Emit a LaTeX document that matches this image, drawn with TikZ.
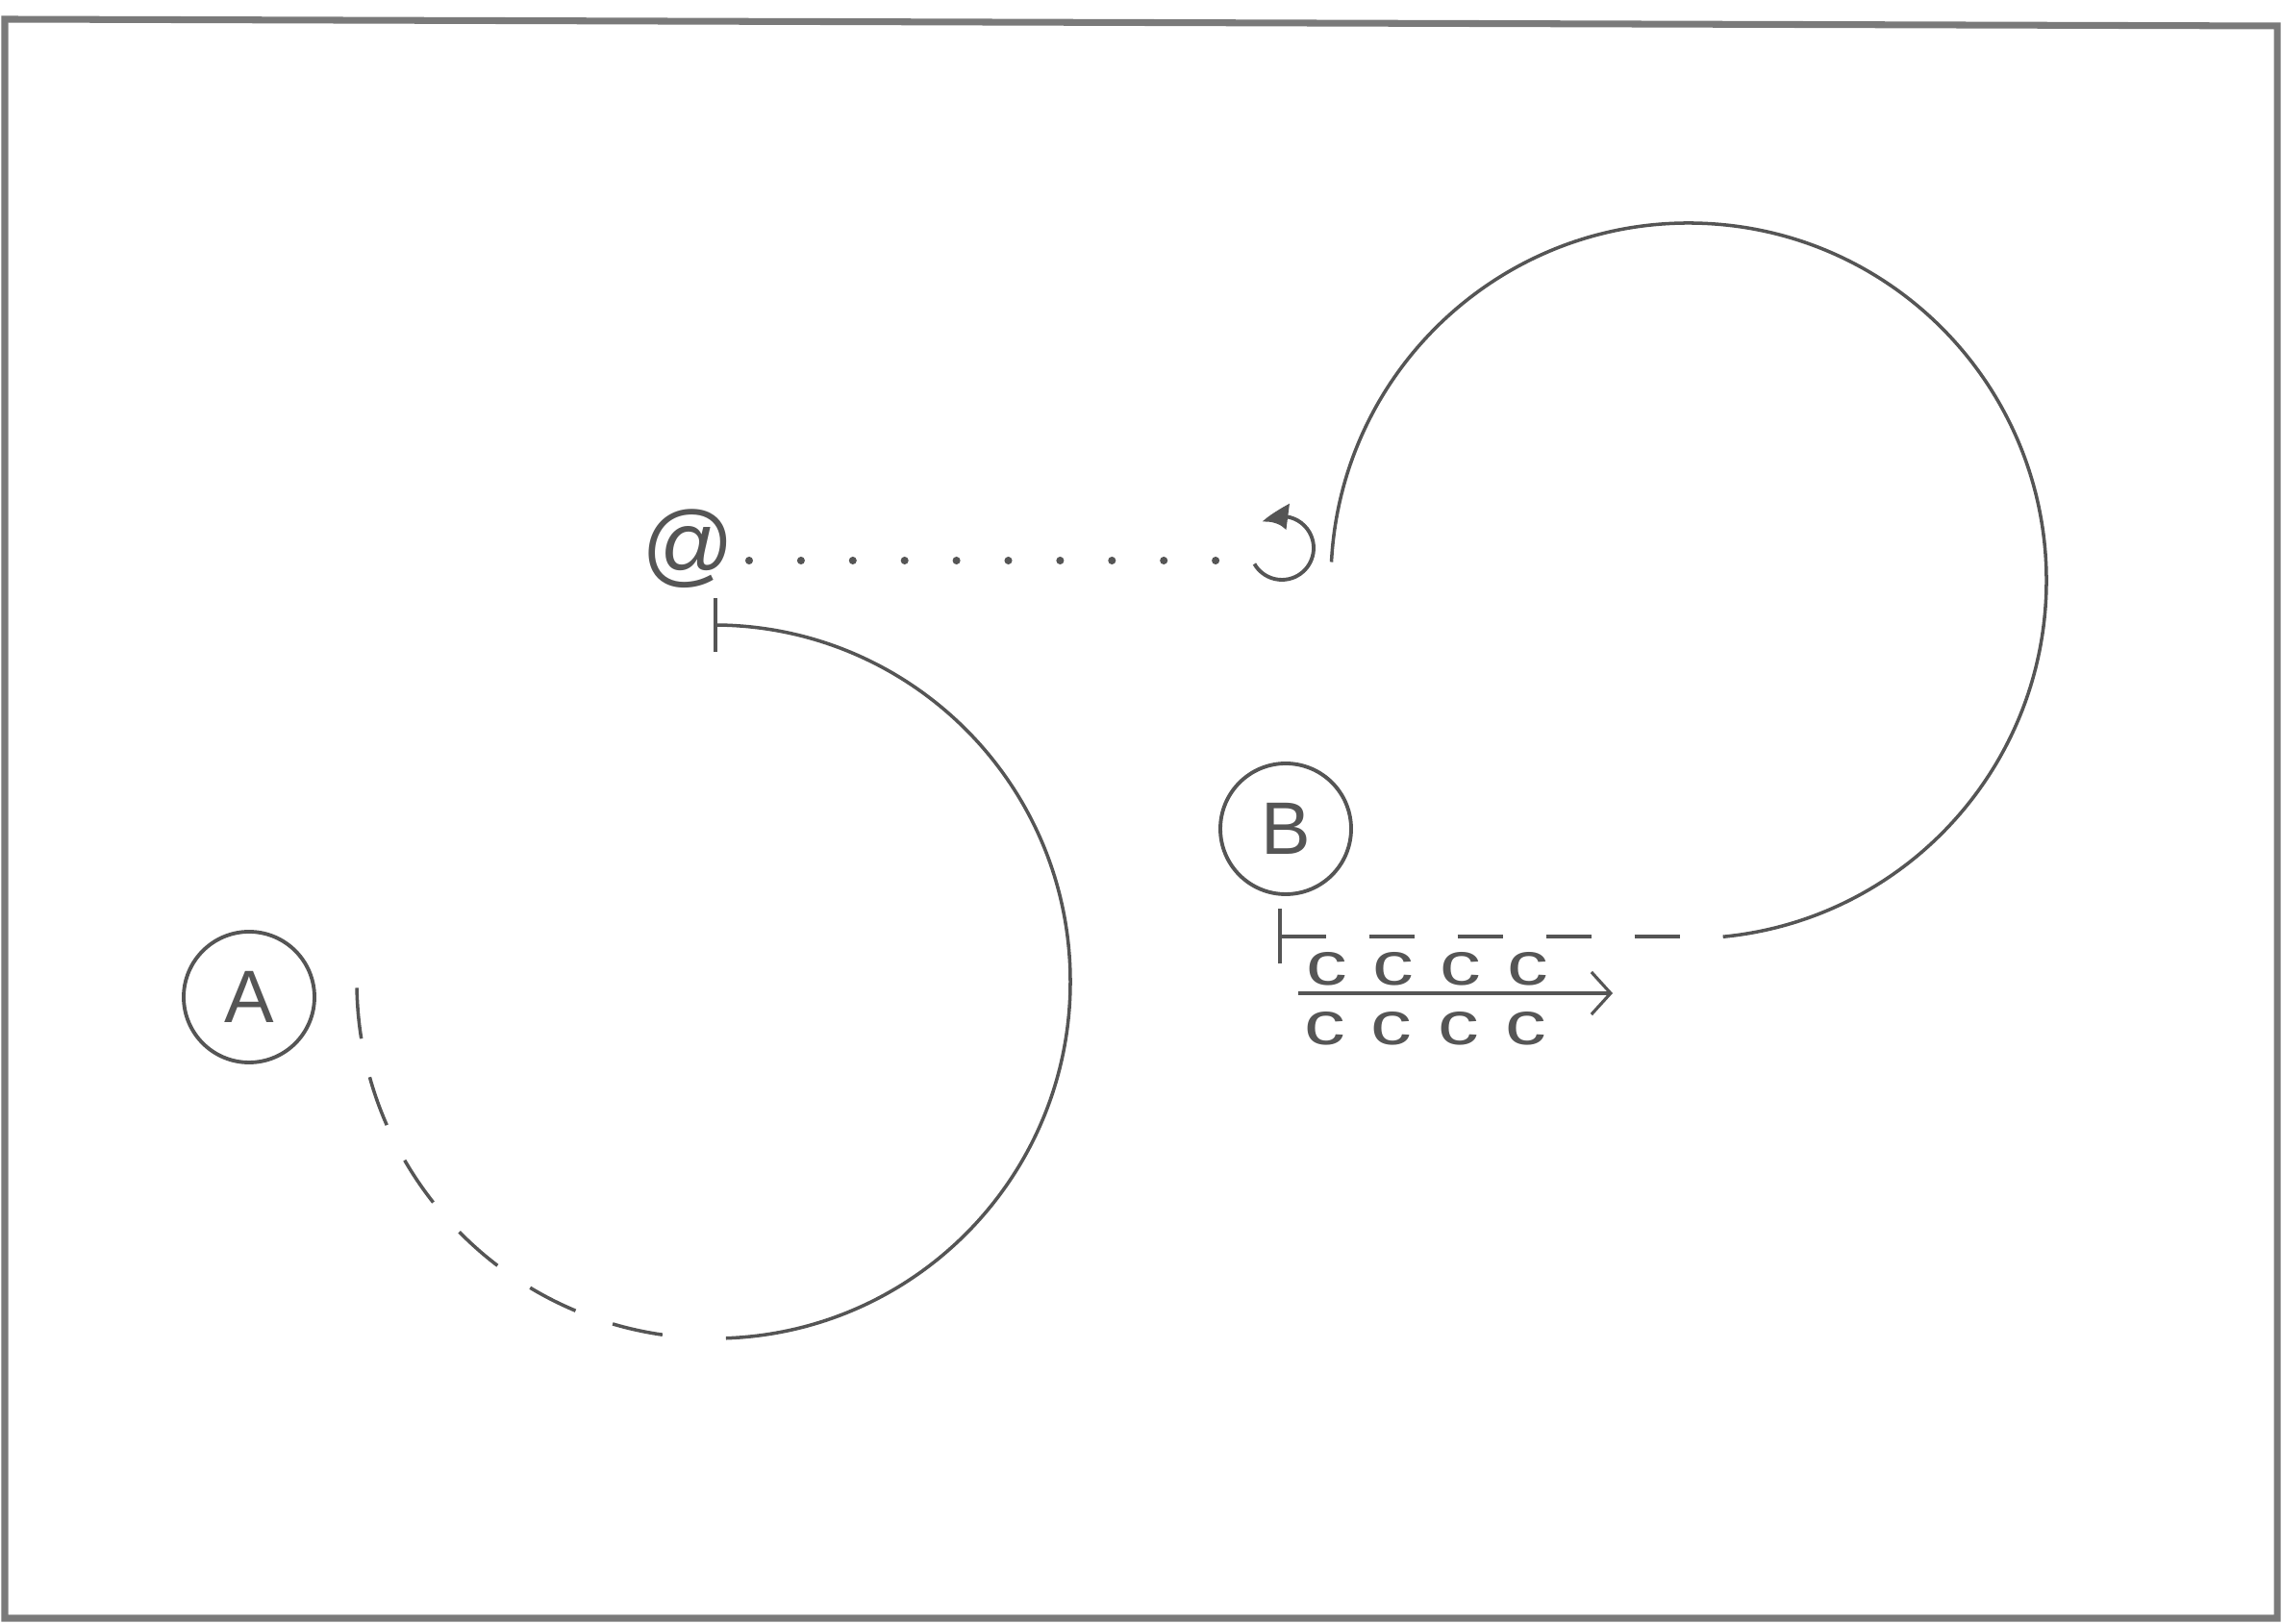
\documentclass[tikz,border=0pt]{standalone}
\usepackage{fontspec}
\setmainfont{Liberation Sans}
\usepackage{xcolor}
\usepackage{tikz}
\usetikzlibrary{arrows.meta,bending,positioning}
\definecolor{lapis}{HTML}{555555}
\definecolor{moldura}{HTML}{7A7A7A}
\newcommand{\letrac}{\scalebox{1.35}[1]{c}}
\newcommand{\linhac}{\letrac\hspace{2.7mm}\letrac\hspace{2.7mm}\letrac\hspace{2.7mm}\letrac}

\begin{document}
\begin{tikzpicture}[every node/.style={text=lapis},
    etiqueta/.style={draw=lapis,line width=1.1pt,circle,minimum size=1.36cm,inner sep=0pt,font=\fontsize{22}{22}\selectfont},
    traco/.style={draw=lapis,line width=1pt},
    letrasc/.style={inner sep=0pt,font=\fontsize{18}{18}\selectfont}]
    \useasboundingbox (0,0) rectangle (23.73,16.89);
    % moldura
    \draw[moldura,line width=2pt] (0.05,16.69) -- (23.68,16.62) -- (23.68,0.06) -- (0.05,0.06) -- cycle;
    % centros dos arcos
    \coordinate (arcoA) at (7.42,6.68);
    \coordinate (arcoB) at (17.56,10.85);
    % etiquetas
    \node[etiqueta] (A) at (2.59,6.52) {A};
    \node[etiqueta] (B) at (13.37,8.27) {B};
    \node[inner sep=0pt,font=\fontsize{27}{27}\selectfont] (arroba) at (7.16,11.18) {@};
    % arco A
    \draw[traco,{Bar[width=5.6mm]}-] ([shift={(90:3.71)}]arcoA) arc[start angle=90,end angle=-88,radius=3.71];
    \draw[traco,dash pattern=on 5.3mm off 4.1mm] ([shift={(181:3.71)}]arcoA) arc[start angle=181,end angle=267,radius=3.71];
    % linha pontilhada
    \coordinate (pontoI) at (7.79,11.06);
    \coordinate (pontoF) at (12.645,11.06);
    \draw[lapis,line width=2.3pt,line cap=round,dash pattern=on 0pt off 5.39mm] (pontoI) -- (pontoF);
    % laco
    \coordinate (laco) at (13.33,11.19);
    \draw[traco,line width=1.1pt,-{Latex[length=2.8mm,width=2.8mm,bend]}] ([shift={(-150:0.33)}]laco) arc[start angle=-150,end angle=128,radius=0.33];
    % arco B
    \draw[traco] ([shift={(177:3.72)}]arcoB) arc[start angle=177,end angle=-84.5,radius=3.72] coordinate (fimB);
    \coordinate (barraB) at (13.29,7.15);
    \draw[traco,{Bar[width=5.7mm]}-,dash pattern=on 4.7mm off 4.5mm] (barraB) -- (barraB -| fimB);
    % seta com cccc
    \coordinate (setaI) at (13.50,6.56);
    \coordinate (setaF) at (16.77,6.56);
    \draw[traco,line width=0.9pt,-{Straight Barb[length=2mm,width=4.4mm]}] (setaI) -- (setaF);
    \node[letrasc] (cima) at (14.84,6.81) {\linhac};
    \node[letrasc] (baixo) at (14.82,6.19) {\linhac};
\end{tikzpicture}
\end{document}
